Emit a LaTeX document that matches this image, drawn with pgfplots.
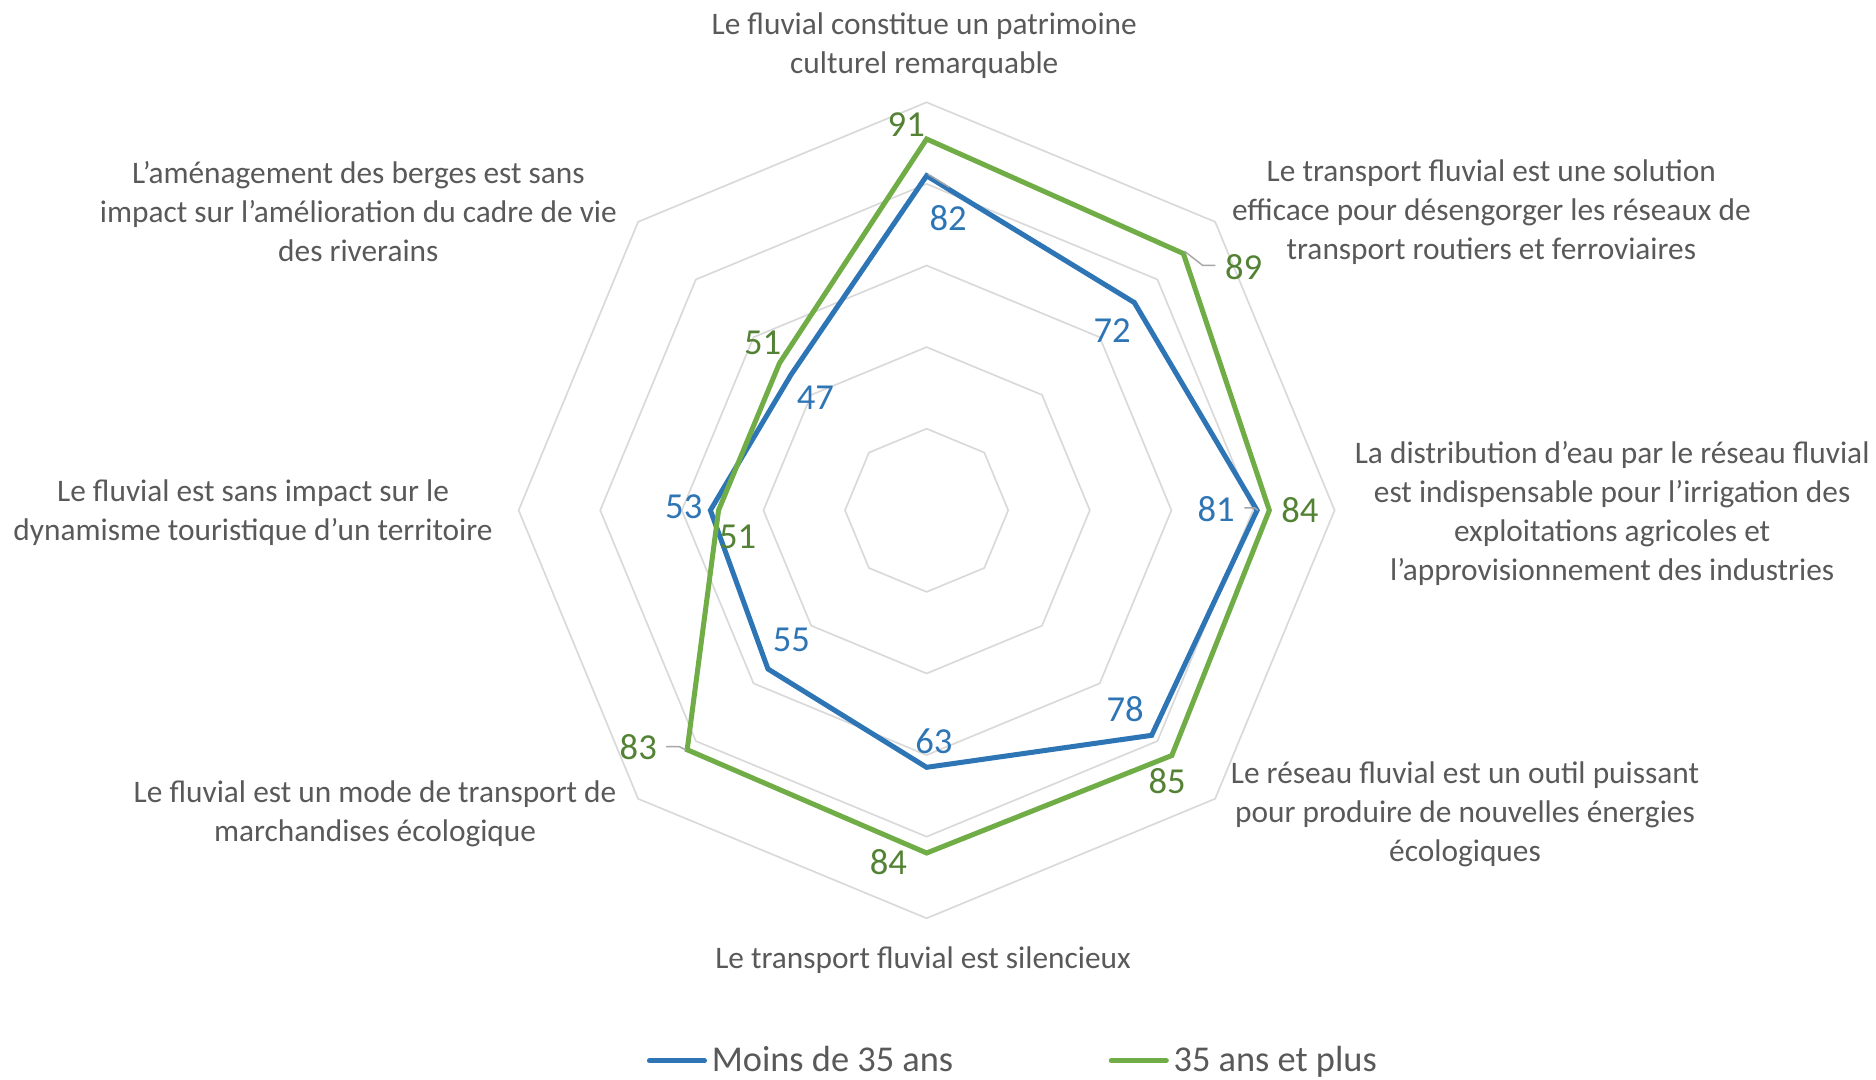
\documentclass[border=0pt]{standalone}
\usepackage{pgfplots}
\pgfplotsset{compat=1.18}
\usepgfplotslibrary{polar}
\usepackage{fontspec}
\setmainfont{Carlito}
\definecolor{blueL}{HTML}{2E75B6}
\definecolor{greenL}{HTML}{70AD47}
\definecolor{greenT}{HTML}{548235}
\definecolor{txt}{HTML}{595959}
\definecolor{gridc}{HTML}{D9D9D9}
\definecolor{lead}{HTML}{A6A6A6}
\begin{document}
\begin{tikzpicture}
\begin{polaraxis}[
  at={(0,0)}, anchor=center,
  scale only axis, width=341pt, height=341pt,
  xmin=0, xmax=360, ymin=0, ymax=100,
  hide axis, clip=false,
  legend columns=2,
  legend style={at={(axis description cs:0.6074,-0.1745)}, anchor=center, draw=none, fill=none,
    font=\fontsize{15.2}{18}\selectfont, text=txt, inner sep=0pt,
    /tikz/every even column/.append style={column sep=63pt}},
  legend image code/.code={\draw[#1, line cap=round] (0pt,0pt) -- (23pt,0pt);},
]
\addplot[gridc, line width=0.7pt, forget plot] coordinates {(90,20)(45,20)(0,20)(315,20)(270,20)(225,20)(180,20)(135,20)} -- cycle;
\addplot[gridc, line width=0.7pt, forget plot] coordinates {(90,40)(45,40)(0,40)(315,40)(270,40)(225,40)(180,40)(135,40)} -- cycle;
\addplot[gridc, line width=0.7pt, forget plot] coordinates {(90,60)(45,60)(0,60)(315,60)(270,60)(225,60)(180,60)(135,60)} -- cycle;
\addplot[gridc, line width=0.7pt, forget plot] coordinates {(90,80)(45,80)(0,80)(315,80)(270,80)(225,80)(180,80)(135,80)} -- cycle;
\addplot[gridc, line width=0.7pt, forget plot] coordinates {(90,100)(45,100)(0,100)(315,100)(270,100)(225,100)(180,100)(135,100)} -- cycle;
\addplot[blueL, line width=2.1pt, line join=miter, mark=none] coordinates {(90,82)(45,72)(0,81)(315,78)(270,63)(225,55)(180,53)(135,47)} -- cycle;
\addlegendentry{Moins de 35 ans}
\addplot[greenL, line width=2.1pt, line join=miter, mark=none] coordinates {(90,91)(45,89)(0,84)(315,85)(270,84)(225,83)(180,51)(135,51)} -- cycle;
\addlegendentry{35 ans et plus}
\end{polaraxis}
% leader lines
\draw[lead, line width=0.6pt] (0.5pt,140.5pt) -- (9.5pt,135pt);
\draw[lead, line width=0.6pt] (107.75pt,108.3pt) -- (115.35pt,102.35pt) -- (120.7pt,102.35pt);
\draw[lead, line width=0.6pt] (132.8pt,1pt) -- (137pt,1pt) -- (138.5pt,0pt);
\draw[lead, line width=0.6pt] (-108.9pt,-98.8pt) -- (-103.3pt,-98.8pt) -- (-100.55pt,-100.2pt);
% data labels
\begin{scope}[every node/.style={inner sep=0pt, font=\fontsize{15.3}{18}\selectfont}]
\node[text=blueL] at (9pt,122pt) {82};
\node[text=blueL] at (77.5pt,75pt) {72};
\node[text=blueL] at (121pt,0.5pt) {81};
\node[text=blueL] at (83pt,-83pt) {78};
\node[text=blueL] at (3pt,-96.5pt) {63};
\node[text=blueL] at (-56.5pt,-54pt) {55};
\node[text=blueL] at (-101.5pt,1.5pt) {53};
\node[text=blueL] at (-46.5pt,47pt) {47};
\node[text=greenT] at (-8.5pt,161pt) {91};
\node[text=greenT] at (132.5pt,101.5pt) {89};
\node[text=greenT] at (156pt,0pt) {84};
\node[text=greenT] at (100.5pt,-113pt) {85};
\node[text=greenT] at (-16pt,-147pt) {84};
\node[text=greenT] at (-120.5pt,-99pt) {83};
\node[text=greenT] at (-79pt,-11pt) {51};
\node[text=greenT] at (-68.5pt,70pt) {51};
\end{scope}
% category labels
\begin{scope}[every node/.style={inner sep=0pt, align=center, text=txt, font=\fontsize{13.1}{16.25}\selectfont}]
\node at (-1pt,194pt) {Le fluvial constitue un patrimoine\\culturel remarquable};
\node at (236pt,124.75pt) {Le transport fluvial est une solution\\efficace pour désengorger les réseaux de\\transport routiers et ferroviaires};
\node at (286.5pt,-1.25pt) {La distribution d’eau par le réseau fluvial\\est indispensable pour l’irrigation des\\exploitations agricoles et\\l’approvisionnement des industries};
\node at (225pt,-127pt) {Le réseau fluvial est un outil puissant\\pour produire de nouvelles énergies\\écologiques};
\node at (-1.5pt,-188pt) {Le transport fluvial est silencieux};
\node at (-230.5pt,-127pt) {Le fluvial est un mode de transport de\\marchandises écologique};
\node at (-281.5pt,-1pt) {Le fluvial est sans impact sur le\\dynamisme touristique d’un territoire};
\node at (-237.5pt,124.75pt) {L’aménagement des berges est sans\\impact sur l’amélioration du cadre de vie\\des riverains};
\end{scope}
\pgfresetboundingbox
\path (-387.25pt,-237.75pt) rectangle (396.75pt,213.25pt);
\end{tikzpicture}
\end{document}
